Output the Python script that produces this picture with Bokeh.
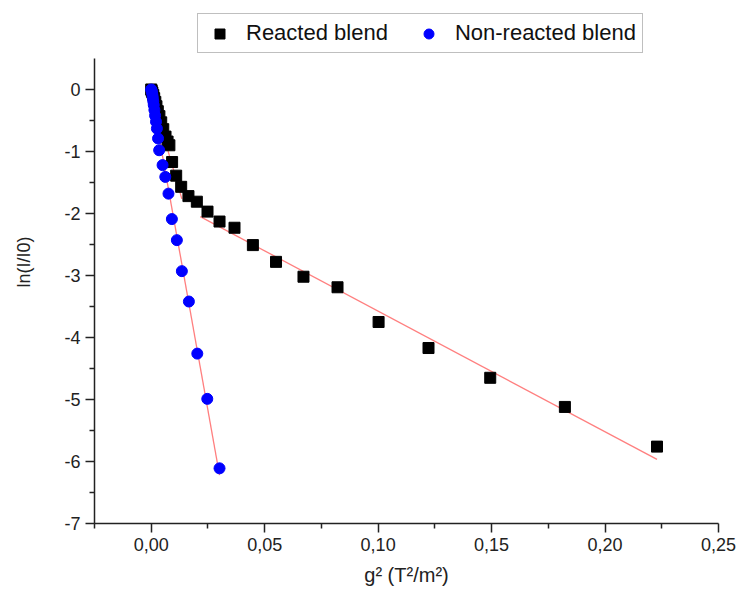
import numpy as np
from bokeh.plotting import figure
from bokeh.models import (Range1d, FixedTicker, CustomJSTickFormatter, Legend,
                          LegendItem, ColumnDataSource)
from bokeh.embed import file_html
from bokeh.resources import INLINE

# ---------------- data ----------------
reacted_g2 = [0.0000, 0.0002, 0.0005, 0.0009, 0.0013, 0.0018, 0.0023, 0.0029,
              0.0036, 0.0044, 0.0053, 0.0063, 0.0072, 0.0080, 0.0092, 0.0110,
              0.0132, 0.0164, 0.0201, 0.0248, 0.0301, 0.0367, 0.0448, 0.0550,
              0.0671, 0.0821, 0.1002, 0.1222, 0.1494, 0.1823, 0.2229]
reacted_ln = [0.00, -0.02, -0.05, -0.09, -0.14, -0.20, -0.27, -0.35,
              -0.43, -0.53, -0.64, -0.76, -0.84, -0.90, -1.17, -1.39,
              -1.57, -1.72, -1.81, -1.97, -2.13, -2.23, -2.51, -2.78,
              -3.02, -3.19, -3.75, -4.17, -4.65, -5.12, -5.76]

nonreacted_g2 = [0.0000, 0.0001, 0.0003, 0.0005, 0.0007, 0.0009, 0.0011, 0.0014,
                 0.0017, 0.0021, 0.0025, 0.0030, 0.0035, 0.0050, 0.0062, 0.0076,
                 0.0091, 0.0113, 0.0135, 0.0166, 0.0203, 0.0247, 0.0301]
nonreacted_ln = [0.00, -0.01, -0.04, -0.08, -0.13, -0.19, -0.25, -0.33,
                 -0.42, -0.52, -0.63, -0.79, -0.98, -1.22, -1.41, -1.68,
                 -2.09, -2.43, -2.93, -3.42, -4.26, -4.99, -6.11]

# linear fits: (intercept, slope, x start, x end)
fit_reacted_fast = (-0.05, -127.0, 0.0, 0.0135)
fit_reacted_slow = (-1.63, -19.45, 0.0216, 0.2229)
fit_nonreacted = (-0.05, -205.0, 0.0, 0.0301)

x_major = [0.0, 0.05, 0.10, 0.15, 0.20, 0.25]
x_minor = [-0.025, 0.025, 0.075, 0.125, 0.175, 0.225]
y_major = [-7, -6, -5, -4, -3, -2, -1, 0]
y_minor = [-6.5, -5.5, -4.5, -3.5, -2.5, -1.5, -0.5]
y_axis_bounds = (-7, 0.5)

series_names = ["Reacted blend", "Non-reacted blend"]
x_title = "g\u00b2 (T\u00b2/m\u00b2)"
y_title = "ln(I/I0)"

FONT = "Liberation Sans"

# ---------------- figure ----------------
# the frame reaches the top of the canvas so that the legend lies inside it;
# the y axis line itself is limited to y_axis_bounds
p = figure(width=739, height=591, output_backend="svg", toolbar_location=None,
           x_range=Range1d(-0.025, 0.25), y_range=Range1d(-7, 1.435),
           min_border_left=94, min_border_right=21, min_border_top=0,
           min_border_bottom=68)
p.outline_line_color = None
p.grid.visible = False
p.background_fill_color = "white"
p.border_fill_color = "white"

for ax in (p.xaxis[0], p.yaxis[0]):
    ax.axis_line_color = "#222222"
    ax.axis_line_width = 1.5
    ax.major_tick_line_color = "#222222"
    ax.minor_tick_line_color = "#222222"
    ax.major_tick_line_width = 1.5
    ax.minor_tick_line_width = 1.5
    ax.major_tick_in = 0
    ax.major_tick_out = 9
    ax.minor_tick_in = 0
    ax.minor_tick_out = 5
    ax.major_label_standoff = 5
    ax.major_label_text_font = FONT
    ax.major_label_text_font_size = "18px"
    ax.major_label_text_color = "#222222"
    ax.axis_label_text_font = FONT
    ax.axis_label_text_font_style = "normal"
    ax.axis_label_text_color = "#222222"

p.yaxis.bounds = y_axis_bounds
p.xaxis.ticker = FixedTicker(ticks=x_major, minor_ticks=x_minor)
p.yaxis.ticker = FixedTicker(ticks=y_major, minor_ticks=y_minor)
p.xaxis.formatter = CustomJSTickFormatter(code="return tick.toFixed(2).replace('.', ',');")
p.yaxis.formatter = CustomJSTickFormatter(code="return tick.toFixed(0);")

p.xaxis.axis_label = x_title
p.xaxis.axis_label_text_font_size = "20px"
p.xaxis.axis_label_standoff = 10
p.yaxis.axis_label = y_title
p.yaxis.axis_label_text_font_size = "18px"
p.yaxis.axis_label_standoff = 27

# fit lines
for (b, m, xa, xb) in (fit_reacted_fast, fit_reacted_slow, fit_nonreacted):
    xs = np.array([xa, xb])
    p.line(xs, b + m * xs, line_color="#ff7f7f", line_width=1.3)

src_r = ColumnDataSource(dict(x=reacted_g2, y=reacted_ln))
src_n = ColumnDataSource(dict(x=nonreacted_g2, y=nonreacted_ln))
r_r = p.scatter("x", "y", source=src_r, marker="square", size=11,
                fill_color="black", line_color="black")
r_n = p.scatter("x", "y", source=src_n, marker="circle", size=11,
                fill_color="#0000ff", line_color="#0000ff")

legend = Legend(items=[LegendItem(label=series_names[0], renderers=[r_r]),
                       LegendItem(label=series_names[1], renderers=[r_n])],
                orientation="horizontal", location=(103, 470),
                border_line_color="#7f7f7f", border_line_width=1.5,
                background_fill_color="white", background_fill_alpha=1.0,
                padding=6, spacing=25, margin=0,
                glyph_width=31, glyph_height=25, label_standoff=11,
                label_text_font=FONT, label_text_font_size="22px",
                label_text_color="#111111")
p.add_layout(legend, "center")

open("out.html", "w").write(file_html(p, INLINE))
